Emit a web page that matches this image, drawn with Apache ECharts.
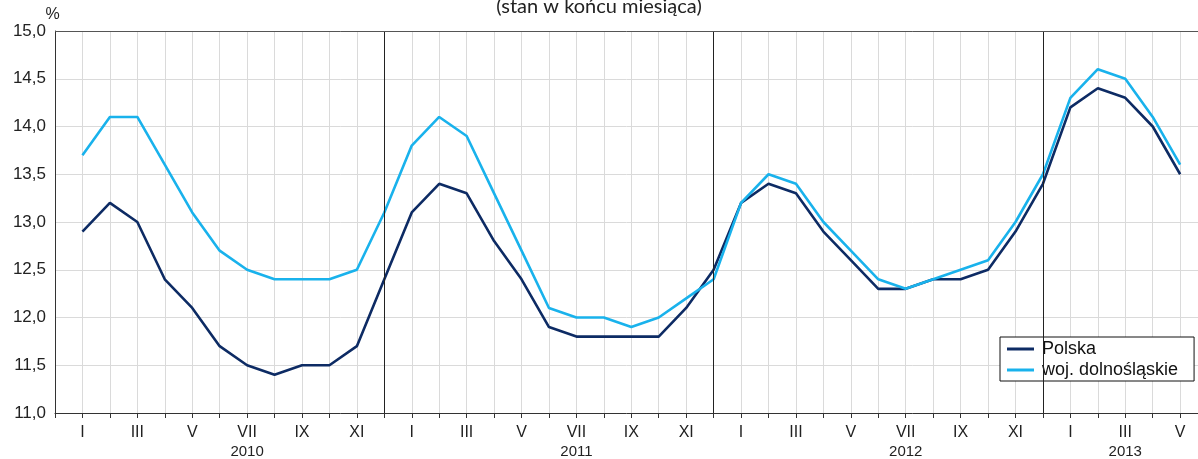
<!DOCTYPE html>
<html>
<head>
<meta charset="utf-8">
<script src="https://cdn.jsdelivr.net/npm/echarts@6/dist/echarts.min.js"></script>
<style>html,body{margin:0;padding:0;background:#fff}#c{width:1198px;height:459px}</style>
</head>
<body>
<div id="c"></div>
<script>
var years = ['2010', '2011', '2012', '2013'];
var monthNames = ['I','II','III','IV','V','VI','VII','VIII','IX','X','XI','XII'];
var polska = [
  12.9, 13.2, 13.0, 12.4, 12.1, 11.7, 11.5, 11.4, 11.5, 11.5, 11.7, 12.4,
  13.1, 13.4, 13.3, 12.8, 12.4, 11.9, 11.8, 11.8, 11.8, 11.8, 12.1, 12.5,
  13.2, 13.4, 13.3, 12.9, 12.6, 12.3, 12.3, 12.4, 12.4, 12.5, 12.9, 13.4,
  14.2, 14.4, 14.3, 14.0, 13.5
];
var dolnoslaskie = [
  13.7, 14.1, 14.1, 13.6, 13.1, 12.7, 12.5, 12.4, 12.4, 12.4, 12.5, 13.1,
  13.8, 14.1, 13.9, 13.3, 12.7, 12.1, 12.0, 12.0, 11.9, 12.0, 12.2, 12.4,
  13.2, 13.5, 13.4, 13.0, 12.7, 12.4, 12.3, 12.4, 12.5, 12.6, 13.0, 13.5,
  14.3, 14.6, 14.5, 14.1, 13.6
];
var seriesNames = ['Polska', 'woj. dolnośląskie'];
var yTicks = { min: 11, max: 15, step: 0.5 };

var n = polska.length;
function pairs(arr) { return arr.map(function (v, i) { return [i, v]; }); }
function yearLabelMonth(yi) {
  var count = Math.min(12, n - yi * 12);
  var m = Math.floor(count / 2);
  return m % 2 === 0 ? m : m - 1;
}
var separators = [];
for (var k = 1; k < years.length; k++) separators.push({ xAxis: k * 12 - 1 });

var FONT = 'Liberation Sans, Arial, sans-serif';
var chart = echarts.init(document.getElementById('c'), null, { renderer: 'canvas' });
chart.setOption({
  animation: false,
  backgroundColor: '#fff',
  textStyle: { fontFamily: FONT },
  title: {
    text: '(stan w końcu miesiąca)',
    left: 'center',
    top: -8,
    textStyle: { fontFamily: 'Lato, sans-serif', fontSize: 20, fontWeight: 'normal', color: '#222' }
  },
  legend: {
    orient: 'vertical',
    left: 1000,
    top: 337,
    backgroundColor: '#fff',
    borderColor: '#111',
    borderWidth: 1,
    borderRadius: 0,
    padding: [3, 16, 2, 7],
    icon: 'rect',
    itemWidth: 27,
    itemHeight: 3,
    itemGap: 3,
    textStyle: { fontSize: 18, color: '#111', fontFamily: FONT, padding: [0, 0, 0, 3] },
    data: seriesNames
  },
  grid: { left: 55, right: 0, top: 31, bottom: 45, containLabel: false },
  xAxis: {
    type: 'value',
    min: -1,
    max: 40.65,
    interval: 1,
    axisLine: { show: true, onZero: false, lineStyle: { color: '#333', width: 1 } },
    axisTick: { show: true, length: 5, lineStyle: { color: '#333' } },
    splitLine: { show: true, lineStyle: { color: '#dadada', width: 1 } },
    axisLabel: {
      margin: 10,
      showMinLabel: true,
      showMaxLabel: false,
      formatter: function (v) {
        var i = Math.round(v);
        if (Math.abs(v - i) > 1e-6 || i < 0 || i >= n) return '';
        var m = i % 12;
        if (m % 2 !== 0) return '';
        var yi = Math.floor(i / 12);
        var s = '{m|' + monthNames[m] + '}';
        if (m === yearLabelMonth(yi)) s += '\n{y|' + years[yi] + '}';
        return s;
      },
      rich: {
        m: { fontSize: 16, lineHeight: 19, color: '#222', fontFamily: FONT },
        y: { fontSize: 15, lineHeight: 19, color: '#222', fontFamily: FONT }
      }
    }
  },
  yAxis: {
    type: 'value',
    min: yTicks.min,
    max: yTicks.max,
    interval: yTicks.step,
    name: '%',
    nameLocation: 'end',
    nameGap: 8,
    nameTextStyle: { fontSize: 16, color: '#222', align: 'center', padding: [0, 5, 0, 0] },
    axisLine: { show: true, onZero: false, lineStyle: { color: '#333', width: 1 } },
    axisTick: { show: false },
    splitLine: { show: true, lineStyle: { color: '#dadada', width: 1 } },
    axisLabel: {
      fontSize: 17,
      color: '#222',
      margin: 9,
      formatter: function (v) { return v.toFixed(1).replace('.', ','); }
    }
  },
  series: [
    {
      name: seriesNames[0],
      type: 'line',
      data: pairs(polska),
      symbol: 'none',
      color: '#0d2b64',
      lineStyle: { width: 2.6, color: '#0d2b64' },
      z: 3,
      markLine: {
        silent: true,
        symbol: 'none',
        label: { show: false },
        lineStyle: { color: '#222', width: 1, type: 'solid' },
        data: separators.concat([{ yAxis: yTicks.max, lineStyle: { color: '#555', width: 1, type: 'solid' } }])
      }
    },
    {
      name: seriesNames[1],
      type: 'line',
      data: pairs(dolnoslaskie),
      symbol: 'none',
      color: '#19b2ec',
      lineStyle: { width: 2.6, color: '#19b2ec' },
      z: 4
    }
  ]
});
</script>
</body>
</html>
